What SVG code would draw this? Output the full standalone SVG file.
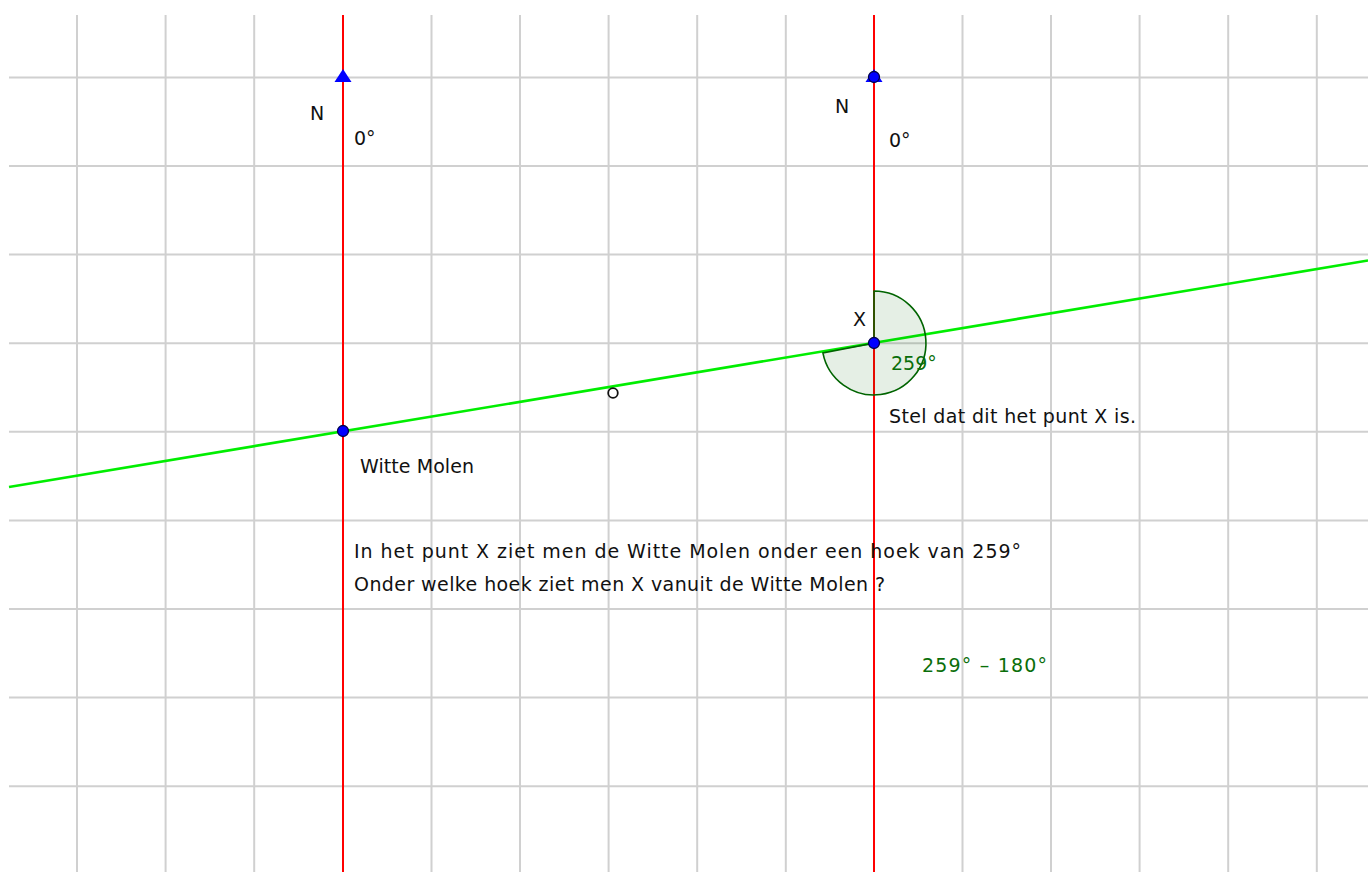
<svg xmlns="http://www.w3.org/2000/svg" width="1368" height="872" viewBox="0 0 1368 872">
<style>
.grid line{stroke:#d0d0d0;stroke-width:2}
.red{stroke:#ff0000;stroke-width:2}
.green{stroke:#00ee00;stroke-width:2.6}
.t{font-family:"DejaVu Sans",sans-serif;font-size:19px;fill:#111}
.g{fill:#0a6e0a}
.pt{fill:#0000ff;stroke:#00004a;stroke-width:1.3}
</style>
<rect width="1368" height="872" fill="#fff"/>
<g id="grid" class="grid">
<line x1="77" y1="15" x2="77" y2="872"/>
<line x1="165.6" y1="15" x2="165.6" y2="872"/>
<line x1="254.2" y1="15" x2="254.2" y2="872"/>
<line x1="431.5" y1="15" x2="431.5" y2="872"/>
<line x1="520" y1="15" x2="520" y2="872"/>
<line x1="608.6" y1="15" x2="608.6" y2="872"/>
<line x1="697.2" y1="15" x2="697.2" y2="872"/>
<line x1="785.8" y1="15" x2="785.8" y2="872"/>
<line x1="962.5" y1="15" x2="962.5" y2="872"/>
<line x1="1051" y1="15" x2="1051" y2="872"/>
<line x1="1139.6" y1="15" x2="1139.6" y2="872"/>
<line x1="1228.2" y1="15" x2="1228.2" y2="872"/>
<line x1="1316.8" y1="15" x2="1316.8" y2="872"/>
<line x1="9" y1="77.5" x2="1368" y2="77.5"/>
<line x1="9" y1="166" x2="1368" y2="166"/>
<line x1="9" y1="254.6" x2="1368" y2="254.6"/>
<line x1="9" y1="343.2" x2="1368" y2="343.2"/>
<line x1="9" y1="431.8" x2="1368" y2="431.8"/>
<line x1="9" y1="520.4" x2="1368" y2="520.4"/>
<line x1="9" y1="609" x2="1368" y2="609"/>
<line x1="9" y1="697.6" x2="1368" y2="697.6"/>
<line x1="9" y1="786.2" x2="1368" y2="786.2"/>
</g>
<g id="connectors">
<line class="red" x1="343" y1="15" x2="343" y2="872"/>
<line class="red" x1="874" y1="15" x2="874" y2="872"/>
<line class="green" x1="9" y1="487" x2="1368" y2="260.5"/>
</g>
<g id="angle">
<path d="M874,343 L874,291 A52,52 0 1 1 822.9,352.9 Z" fill="#006400" fill-opacity="0.1" stroke="#006400" stroke-width="1.6"/>
<text class="t g" x="891" y="370">259°</text>
</g>
<g id="north-left">
<polygon points="343,69 334.5,82 351.5,82" fill="#0000ff"/>
<text class="t" x="310" y="120">N</text>
<text class="t" x="354" y="145">0°</text>
</g>
<g id="north-right">
<polygon points="874,69 865.5,82 882.5,82" fill="#0000ff"/>
<circle class="pt" cx="874" cy="77" r="5.5"/>
<text class="t" x="835" y="113">N</text>
<text class="t" x="889" y="147">0°</text>
</g>
<g id="point-x">
<circle class="pt" cx="874" cy="343" r="5.5"/>
<text class="t" x="853" y="326">X</text>
<text class="t" x="889" y="423" textLength="247" lengthAdjust="spacing">Stel dat dit het punt X is.</text>
</g>
<g id="witte-molen">
<circle class="pt" cx="343" cy="431" r="5.5"/>
<text class="t" x="360" y="473" textLength="114" lengthAdjust="spacing">Witte Molen</text>
</g>
<g id="aux-point">
<circle cx="613" cy="393" r="4.8" fill="#fff" stroke="#111" stroke-width="1.8"/>
</g>
<g id="question">
<text class="t" x="354" y="558" textLength="667" lengthAdjust="spacing">In het punt X ziet men de Witte Molen onder een hoek van 259°</text>
<text class="t" x="354" y="591" textLength="531" lengthAdjust="spacing">Onder welke hoek ziet men X vanuit de Witte Molen ?</text>
</g>
<g id="answer">
<text class="t g" x="922" y="672" textLength="125" lengthAdjust="spacing">259° – 180°</text>
</g>
</svg>
